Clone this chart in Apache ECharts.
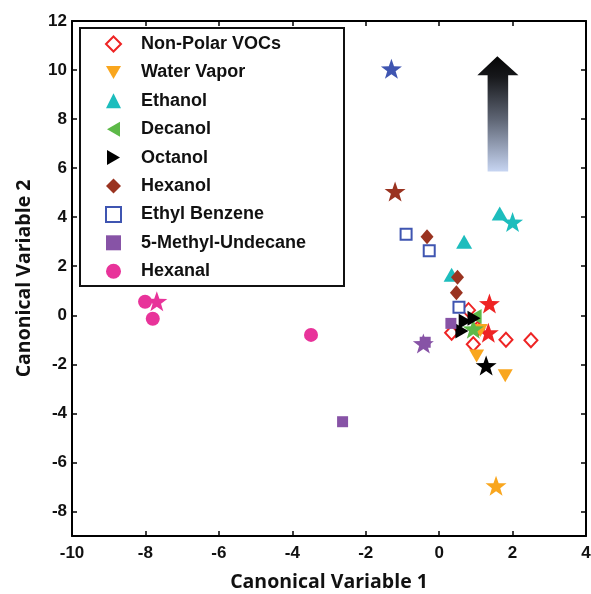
<!DOCTYPE html>
<html>
<head>
<meta charset="utf-8">
<script src="https://cdn.jsdelivr.net/npm/echarts@6/dist/echarts.min.js"></script>
<style>html,body{margin:0;padding:0;background:#fff;}#c{width:591px;height:594px;}</style>
</head>
<body>
<div id="c"></div>
<script>
// ---- data ----
const groupNames = ['Non-Polar VOCs','Water Vapor','Ethanol','Decanol','Octanol','Hexanol','Ethyl Benzene','5-Methyl-Undecane','Hexanal'];
const nonPolarPts = [[0.80,0.21],[0.34,-0.71],[0.93,-1.18],[1.05,-0.55],[1.82,-1.0],[2.50,-1.02]];
const nonPolarStars = [[1.37,0.48],[1.34,-0.71]];
const waterPts = [[1.02,-1.66],[1.80,-2.47],[1.12,-0.62]];
const waterStars = [[1.55,-6.95]];
const ethanolPts = [[1.65,4.15],[0.68,3.0],[0.34,1.65]];
const ethanolStars = [[2.0,3.8]];
const decanolPts = [[0.98,-0.05]];
const decanolStars = [[0.93,-0.55]];
const octanolPts = [[0.71,-0.24],[0.62,-0.64],[0.95,-0.12]];
const octanolStars = [[1.28,-2.05]];
const hexanolPts = [[-0.33,3.2],[0.5,1.55],[0.47,0.92]];
const hexanolStars = [[-1.2,5.05]];
const ethylPts = [[-0.9,3.3],[-0.27,2.63],[0.54,0.33]];
const ethylStars = [[-1.3,10.05]];
const methylPts = [[0.32,-0.33],[-2.63,-4.34],[-0.38,-1.1]];
const methylStars = [[-0.43,-1.15]];
const hexanalPts = [[-8.01,0.55],[-7.8,-0.14],[-3.49,-0.8]];
const hexanalStars = [[-7.69,0.57]];
const xTicks = [-10,-8,-6,-4,-2,0,2,4];
const yTicks = [-8,-6,-4,-2,0,2,4,6,8,10,12];

const STAR = 'path://M0,-10 L2.35,-3.24 L9.51,-3.09 L3.80,1.24 L5.88,8.09 L0,4 L-5.88,8.09 L-3.80,1.24 L-9.51,-3.09 L-2.35,-3.24 Z';
const TRI_DOWN = 'path://M0,0 L10,0 L5,8.66 Z';
const TRI_LEFT = 'path://M8.66,0 L8.66,10 L0,5 Z';
const TRI_RIGHT = 'path://M0,0 L0,10 L8.66,5 Z';

const groups = [
  {pts: nonPolarPts, stars: nonPolarStars, color:'#ee2424', hollow:true, symbol:'diamond', size:[13,14]},
  {pts: waterPts, stars: waterStars, color:'#f9a61e', symbol:TRI_DOWN, size:[15,13]},
  {pts: ethanolPts, stars: ethanolStars, color:'#1dbdbd', symbol:'triangle', size:[16,14]},
  {pts: decanolPts, stars: decanolStars, color:'#5db948', symbol:TRI_LEFT, size:[13,15]},
  {pts: octanolPts, stars: octanolStars, color:'#000000', symbol:TRI_RIGHT, size:[13,15]},
  {pts: hexanolPts, stars: hexanolStars, color:'#9a3320', symbol:'diamond', size:[13,15]},
  {pts: ethylPts, stars: ethylStars, color:'#3f55b1', hollow:true, symbol:'rect', size:[11,11]},
  {pts: methylPts, stars: methylStars, color:'#8753a6', symbol:'rect', size:[11,11]},
  {pts: hexanalPts, stars: hexanalStars, color:'#e8339a', symbol:'circle', size:[14,14]}
];

const series = groups.map((g, i) => {
  const data = g.pts.map(p => ({value: p}));
  g.stars.forEach(s => data.push({
    value: s, symbol: STAR, symbolSize: 21, symbolKeepAspect: true,
    itemStyle: {color: g.color, borderWidth: 0}
  }));
  return {
    name: groupNames[i],
    type: 'scatter',
    symbol: g.symbol,
    symbolSize: g.size,
    itemStyle: g.hollow ? {color:'#ffffff', borderColor:g.color, borderWidth:2, opacity:1}
                        : {color:g.color, opacity:1},
    emphasis: {disabled: true},
    data: data
  };
});

const axisCommon = {
  axisLine: {show:true, onZero:false, lineStyle:{color:'#000', width:2}},
  axisTick: {show:true, inside:true, length:5, lineStyle:{color:'#000', width:1.5}},
  splitLine: {show:false}
};
const labelStyle = {color:'#111', fontFamily:'Liberation Sans, Arial', fontWeight:'bold', fontSize:17};
const nameStyle = {color:'#111', fontFamily:'Open Sans', fontWeight:'bold', fontSize:19.5};

const chart = echarts.init(document.getElementById('c'), null, {renderer:'canvas'});
chart.setOption({
  animation: false,
  backgroundColor: '#fff',
  grid: {left:72, right:5, top:21, bottom:58, containLabel:false, outerBoundsMode:'none'},
  xAxis: [
    Object.assign({type:'value', position:'bottom', min:-10, max:4, interval:2,
      name:'Canonical Variable 1', nameLocation:'middle', nameGap:36, nameTextStyle:nameStyle,
      axisLabel: Object.assign({margin:9, customValues: xTicks}, labelStyle)}, axisCommon,
      {axisTick: Object.assign({}, axisCommon.axisTick, {customValues: xTicks})}),
    Object.assign({type:'value', position:'top', min:-10, max:4, interval:2,
      axisLabel:{show:false}}, axisCommon)
  ],
  yAxis: [
    Object.assign({type:'value', position:'left', min:-9, max:12,
      name:'Canonical Variable 2', nameLocation:'middle', nameGap:38, nameTextStyle:nameStyle,
      axisLabel: Object.assign({margin:5, customValues: yTicks}, labelStyle)}, axisCommon,
      {axisTick: Object.assign({}, axisCommon.axisTick, {customValues: yTicks})}),
    Object.assign({type:'value', position:'right', min:-9, max:12,
      axisLabel:{show:false}}, axisCommon,
      {axisTick: Object.assign({}, axisCommon.axisTick, {customValues: yTicks})})
  ],
  legend: {
    orient:'vertical', left:97, top:29,
    padding:[6,0,0,8],
    itemWidth:15, itemHeight:15, itemGap:10.4,
    symbolKeepAspect: true,
    selectedMode:false,
    textStyle:{color:'#111', fontFamily:'Liberation Sans, Arial', fontWeight:'bold', fontSize:18, padding:[0,0,0,15]},
    data: groupNames
  },
  series: series
});

// legend frame and arrow, placed in data space
function px(x, y){ return chart.convertToPixel({xAxisIndex:0, yAxisIndex:0}, [x, y]); }
const tip = px(1.585, 10.56), hl = px(1.04, 9.79), hr = px(2.16, 9.79),
      sl = px(1.32, 9.79), sr = px(1.88, 9.79), sb = px(1.32, 5.86), sbr = px(1.88, 5.86);
chart.setOption({
  graphic: [
    {type:'rect', shape:{x:80, y:28, width:264, height:258}, style:{fill:'none', stroke:'#111', lineWidth:2}, z:10},
    {type:'polygon', shape:{points:[tip, hr, sr, sbr, sb, sl, hl]},
     style:{fill: new echarts.graphic.LinearGradient(0,0,0,1,[
       {offset:0, color:'#050505'}, {offset:0.18, color:'#17181b'},
       {offset:0.55, color:'#5f6675'}, {offset:1, color:'#c7d5f2'}])}, z:5}
  ]
});
</script>
</body>
</html>
